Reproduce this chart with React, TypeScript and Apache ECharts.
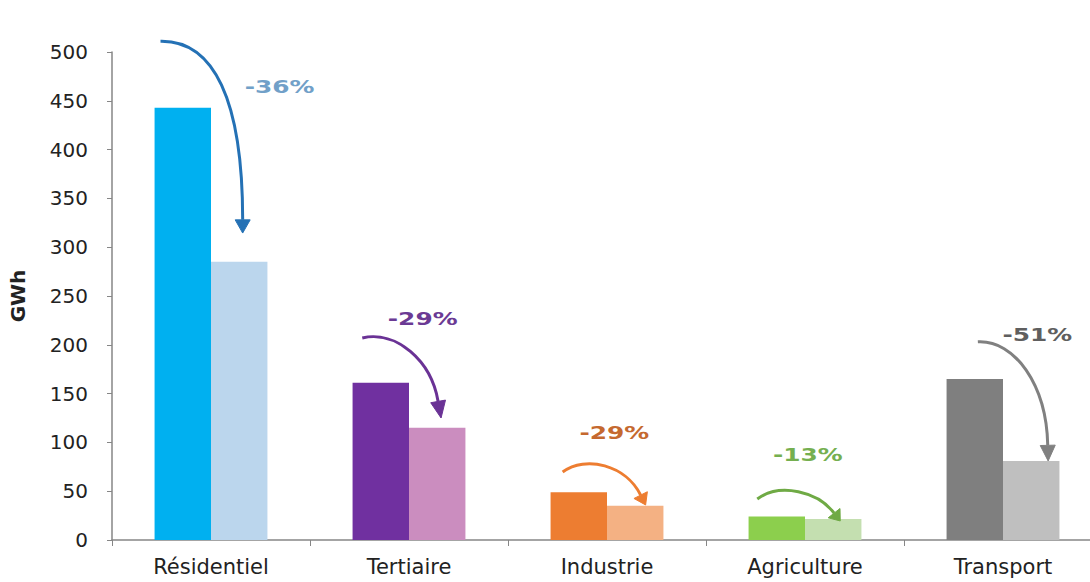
import React, { useEffect, useRef } from "react";
import * as echarts from "echarts";

const categories = ["Résidentiel", "Tertiaire", "Industrie", "Agriculture", "Transport"];
const valuesBefore = [443, 161, 49, 24, 165];
const valuesAfter = [285, 115, 35, 21.5, 81];
const changeLabels = ["-36%", "-29%", "-29%", "-13%", "-51%"];
const yMin = 0;
const yMax = 500;
const yStep = 50;

const darkColors = ["#00B0F0", "#7030A0", "#ED7D31", "#8CCF4D", "#7F7F7F"];
const lightColors = ["#BBD6ED", "#CB8DBF", "#F4B183", "#C4DFB0", "#BFBFBF"];
const arrowColors = ["#2471B5", "#6A3295", "#ED7D31", "#6FAA45", "#808080"];
const labelColors = ["#71A0C8", "#6B3A94", "#C5692F", "#75AF50", "#5F5F5F"];

// annotation geometry: [offset from category centre in category widths, value on the GWh axis]
const arrowStart = [[-0.255, 511], [-0.236, 207], [-0.224, 69.7], [-0.241, 42], [-0.127, 203]];
const arrowCtrl1 = [[0.014, 512], [-0.064, 215], [-0.107, 87], [-0.125, 59.4], [0.059, 205]];
const arrowCtrl2 = [[0.16, 451], [0.112, 184], [0.094, 77], [0.067, 49.2], [0.22, 159]];
const arrowEnd = [[0.16, 328], [0.147, 142], [0.17, 46], [0.147, 27.5], [0.226, 97]];
const arrowTip = [[0.16, 314.5], [0.162, 125], [0.195, 35.9], [0.178, 19.5], [0.228, 81]];
const labelPos = [[0.346, 464], [0.069, 226.4], [0.037, 109.6], [0.014, 87.1], [0.173, 210]];

const FONT = '"DejaVu Sans", Verdana, sans-serif';

export default function App() {
  const ref = useRef<HTMLDivElement>(null);

  useEffect(() => {
    if (!ref.current) return;
    const chart = echarts.init(ref.current, null, { renderer: "svg" });
    chart.setOption({
      animation: false,
      backgroundColor: "#ffffff",
      grid: { left: 109, right: 0, top: 52, bottom: 42, containLabel: false },
      xAxis: {
        type: "category",
        data: categories,
        axisLine: { show: true, lineStyle: { color: "#868686", width: 1.5 } },
        axisTick: { show: true, length: 6, lineStyle: { color: "#868686" } },
        axisLabel: { fontSize: 21, color: "#222222", fontFamily: FONT, margin: 16 },
      },
      yAxis: {
        type: "value",
        min: yMin,
        max: yMax,
        interval: yStep,
        name: "GWh",
        nameLocation: "middle",
        nameRotate: 90,
        nameGap: 84,
        nameTextStyle: { fontSize: 20, fontWeight: "bold", color: "#222222", fontFamily: FONT },
        axisLine: { show: true, lineStyle: { color: "#868686", width: 1.5 } },
        axisTick: { show: true, length: 5, lineStyle: { color: "#868686" } },
        axisLabel: { fontSize: 20, color: "#222222", fontFamily: FONT, margin: 24 },
        splitLine: { show: false },
      },
      series: [
        {
          name: "Avant",
          type: "bar",
          barGap: "0%",
          barCategoryGap: "43%",
          data: valuesBefore.map((v, i) => ({ value: v, itemStyle: { color: darkColors[i] } })),
        },
        {
          name: "Après",
          type: "bar",
          barGap: "0%",
          barCategoryGap: "43%",
          data: valuesAfter.map((v, i) => ({ value: v, itemStyle: { color: lightColors[i] } })),
        },
      ],
    });

    const c0 = chart.convertToPixel({ seriesIndex: 0 }, [0, 0]) as number[];
    const c1 = chart.convertToPixel({ seriesIndex: 0 }, [1, 0]) as number[];
    const band = c1[0] - c0[0];
    const toPx = (i: number, p: number[]) => [
      c0[0] + (i + p[0]) * band,
      chart.convertToPixel({ yAxisIndex: 0 }, p[1]) as number,
    ];

    const graphics: any[] = [];
    categories.forEach((_, i) => {
      const s = toPx(i, arrowStart[i]);
      const a = toPx(i, arrowCtrl1[i]);
      const b = toPx(i, arrowCtrl2[i]);
      const e = toPx(i, arrowEnd[i]);
      const t = toPx(i, arrowTip[i]);
      graphics.push({
        type: "bezierCurve",
        shape: { x1: s[0], y1: s[1], cpx1: a[0], cpy1: a[1], cpx2: b[0], cpy2: b[1], x2: e[0], y2: e[1] },
        style: { stroke: arrowColors[i], lineWidth: 3, fill: null },
        z: 10,
      });
      const dx = t[0] - e[0];
      const dy = t[1] - e[1];
      const len = Math.sqrt(dx * dx + dy * dy) || 1;
      const nx = -dy / len;
      const ny = dx / len;
      const hw = 7.5;
      graphics.push({
        type: "polygon",
        shape: {
          points: [
            [t[0], t[1]],
            [e[0] + nx * hw, e[1] + ny * hw],
            [e[0] - nx * hw, e[1] - ny * hw],
          ],
        },
        style: { fill: arrowColors[i], stroke: arrowColors[i], lineWidth: 1 },
        z: 10,
      });
      const lp = toPx(i, labelPos[i]);
      graphics.push({
        type: "text",
        x: lp[0],
        y: lp[1],
        scaleX: 1.38,
        style: {
          text: changeLabels[i],
          fill: labelColors[i],
          font: `bold 18px ${FONT}`,
          textAlign: "center",
          textVerticalAlign: "middle",
        },
        z: 11,
      });
    });
    chart.setOption({ graphic: graphics });

    return () => chart.dispose();
  }, []);

  return (
    <div style={{ position: "fixed", left: 0, top: 0, width: 1090, height: 582, overflow: "hidden", background: "#fff" }}>
      <div ref={ref} style={{ width: 1102, height: 582 }} />
    </div>
  );
}
